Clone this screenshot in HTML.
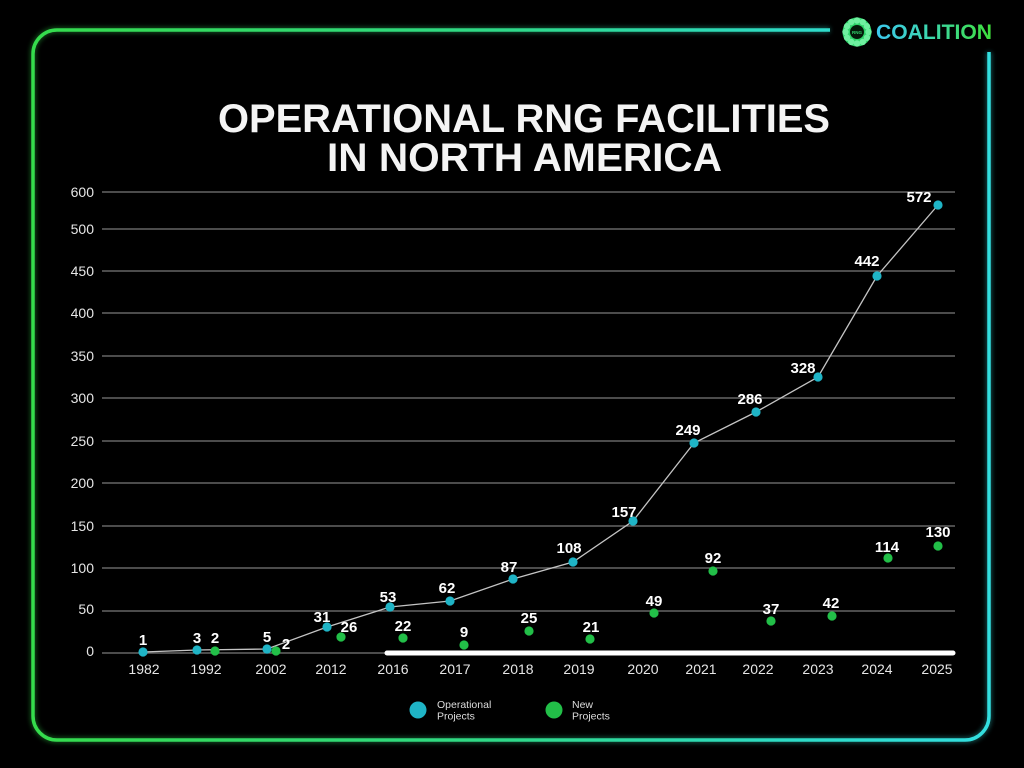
<!DOCTYPE html>
<html>
<head>
<meta charset="utf-8">
<style>
  html, body { margin: 0; padding: 0; background: #000; }
  body { width: 1024px; height: 768px; overflow: hidden; }
  svg { display: block; }
  text { font-family: "Liberation Sans", "DejaVu Sans", sans-serif; }
</style>
</head>
<body>
<svg width="1024" height="768" viewBox="0 0 1024 768" xmlns="http://www.w3.org/2000/svg">
  <defs>
    <linearGradient id="frameGrad" x1="0" y1="0" x2="1" y2="0" gradientUnits="objectBoundingBox">
      <stop offset="0" stop-color="#35dc4c"/>
      <stop offset="0.5" stop-color="#2fd98a"/>
      <stop offset="0.8" stop-color="#2edcc8"/>
      <stop offset="1" stop-color="#33dfe0"/>
    </linearGradient>
    <linearGradient id="logoText" x1="876" y1="0" x2="992" y2="0" gradientUnits="userSpaceOnUse">
      <stop offset="0" stop-color="#3cc8ee"/>
      <stop offset="0.45" stop-color="#3cd6b0"/>
      <stop offset="1" stop-color="#3ee03a"/>
    </linearGradient>
    <filter id="glow" x="-5%" y="-5%" width="110%" height="110%">
      <feGaussianBlur stdDeviation="2.5"/>
    </filter>
  </defs>

  <rect width="1024" height="768" fill="#000"/>

  <!-- Frame -->
  <path d="M 830 30 H 57 A 24 24 0 0 0 33 54 V 716 A 24 24 0 0 0 57 740 H 965 A 24 24 0 0 0 989 716 V 52"
        fill="none" stroke="url(#frameGrad)" stroke-width="6" opacity="0.35" filter="url(#glow)"/>
  <path d="M 830 30 H 57 A 24 24 0 0 0 33 54 V 716 A 24 24 0 0 0 57 740 H 965 A 24 24 0 0 0 989 716 V 52"
        fill="none" stroke="url(#frameGrad)" stroke-width="3.5"/>

  <!-- Logo -->
  <g>
    <circle cx="857" cy="32" r="14.5" fill="#2fd36a"/>
    <g fill="#6ff0a0">
      <circle cx="857" cy="20.5" r="3.2"/>
      <circle cx="862.75" cy="22.04" r="3.2"/>
      <circle cx="866.96" cy="26.25" r="3.2"/>
      <circle cx="868.5" cy="32" r="3.2"/>
      <circle cx="866.96" cy="37.75" r="3.2"/>
      <circle cx="862.75" cy="41.96" r="3.2"/>
      <circle cx="857" cy="43.5" r="3.2"/>
      <circle cx="851.25" cy="41.96" r="3.2"/>
      <circle cx="847.04" cy="37.75" r="3.2"/>
      <circle cx="845.5" cy="32" r="3.2"/>
      <circle cx="847.04" cy="26.25" r="3.2"/>
      <circle cx="851.25" cy="22.04" r="3.2"/>
    </g>
    <circle cx="857" cy="32" r="7" fill="#041a0a"/>
    <text x="857" y="34" font-size="4.5" font-weight="bold" fill="#2fd36a" text-anchor="middle">RNG</text>
    <text x="876" y="39" font-size="21" font-weight="bold" fill="url(#logoText)" textLength="116" lengthAdjust="spacingAndGlyphs">COALITION</text>
  </g>

  <!-- Title -->
  <text x="524" y="132" font-size="40" font-weight="bold" fill="#f4f4f4" text-anchor="middle" textLength="612" lengthAdjust="spacingAndGlyphs">OPERATIONAL RNG FACILITIES</text>
  <text x="524.5" y="171" font-size="40" font-weight="bold" fill="#f4f4f4" text-anchor="middle" textLength="395" lengthAdjust="spacingAndGlyphs">IN NORTH AMERICA</text>

  <!-- Gridlines -->
  <g stroke="#7a7a7a" stroke-width="1.3">
    <line x1="102" y1="192" x2="955" y2="192"/>
    <line x1="102" y1="229" x2="955" y2="229"/>
    <line x1="102" y1="271" x2="955" y2="271"/>
    <line x1="102" y1="313" x2="955" y2="313"/>
    <line x1="102" y1="356" x2="955" y2="356"/>
    <line x1="102" y1="398" x2="955" y2="398"/>
    <line x1="102" y1="441" x2="955" y2="441"/>
    <line x1="102" y1="483" x2="955" y2="483"/>
    <line x1="102" y1="526" x2="955" y2="526"/>
    <line x1="102" y1="568" x2="955" y2="568"/>
    <line x1="102" y1="611" x2="955" y2="611"/>
    <line x1="102" y1="653" x2="955" y2="653"/>
  </g>
  <line x1="387" y1="653" x2="953" y2="653" stroke="#ffffff" stroke-width="5" stroke-linecap="round"/>

  <!-- Y labels -->
  <g font-size="14" fill="#e6e6e6" text-anchor="end">
    <text x="94" y="197">600</text>
    <text x="94" y="234">500</text>
    <text x="94" y="276">450</text>
    <text x="94" y="318">400</text>
    <text x="94" y="361">350</text>
    <text x="94" y="403">300</text>
    <text x="94" y="446">250</text>
    <text x="94" y="488">200</text>
    <text x="94" y="531">150</text>
    <text x="94" y="573">100</text>
    <text x="94" y="614">50</text>
    <text x="94" y="656">0</text>
  </g>

  <!-- X labels -->
  <g font-size="14" fill="#e6e6e6" text-anchor="middle">
    <text x="144" y="674">1982</text>
    <text x="206" y="674">1992</text>
    <text x="271" y="674">2002</text>
    <text x="331" y="674">2012</text>
    <text x="393" y="674">2016</text>
    <text x="455" y="674">2017</text>
    <text x="518" y="674">2018</text>
    <text x="579" y="674">2019</text>
    <text x="643" y="674">2020</text>
    <text x="701" y="674">2021</text>
    <text x="758" y="674">2022</text>
    <text x="818" y="674">2023</text>
    <text x="877" y="674">2024</text>
    <text x="937" y="674">2025</text>
  </g>

  <!-- Operational line -->
  <polyline points="143,652 197,650 267,649 327,627 390,607 450,601 513,579 573,562 633,521 694,443 756,412 818,377 877,276 938,205"
            fill="none" stroke="#c4c4c4" stroke-width="1.3"/>

  <!-- Green (new) dots -->
  <g fill="#22bf48">
    <circle cx="215" cy="651" r="4.6"/>
    <circle cx="276" cy="651" r="4.6"/>
    <circle cx="341" cy="637" r="4.6"/>
    <circle cx="403" cy="638" r="4.6"/>
    <circle cx="464" cy="645" r="4.6"/>
    <circle cx="529" cy="631" r="4.6"/>
    <circle cx="590" cy="639" r="4.6"/>
    <circle cx="654" cy="613" r="4.6"/>
    <circle cx="713" cy="571" r="4.6"/>
    <circle cx="771" cy="621" r="4.6"/>
    <circle cx="832" cy="616" r="4.6"/>
    <circle cx="888" cy="558" r="4.6"/>
    <circle cx="938" cy="546" r="4.6"/>
  </g>

  <!-- Cyan (operational) dots -->
  <g fill="#1fb4c6">
    <circle cx="143" cy="652" r="4.6"/>
    <circle cx="197" cy="650" r="4.6"/>
    <circle cx="267" cy="649" r="4.6"/>
    <circle cx="327" cy="627" r="4.6"/>
    <circle cx="390" cy="607" r="4.6"/>
    <circle cx="450" cy="601" r="4.6"/>
    <circle cx="513" cy="579" r="4.6"/>
    <circle cx="573" cy="562" r="4.6"/>
    <circle cx="633" cy="521" r="4.6"/>
    <circle cx="694" cy="443" r="4.6"/>
    <circle cx="756" cy="412" r="4.6"/>
    <circle cx="818" cy="377" r="4.6"/>
    <circle cx="877" cy="276" r="4.6"/>
    <circle cx="938" cy="205" r="4.6"/>
  </g>

  <!-- Value labels -->
  <g font-size="15" font-weight="bold" fill="#ffffff" text-anchor="middle">
    <text x="143" y="645">1</text>
    <text x="197" y="643">3</text>
    <text x="267" y="642">5</text>
    <text x="322" y="622">31</text>
    <text x="388" y="602">53</text>
    <text x="447" y="593">62</text>
    <text x="509" y="572">87</text>
    <text x="569" y="553">108</text>
    <text x="624" y="517">157</text>
    <text x="688" y="435">249</text>
    <text x="750" y="404">286</text>
    <text x="803" y="373">328</text>
    <text x="867" y="266">442</text>
    <text x="919" y="202">572</text>

    <text x="215" y="643">2</text>
    <text x="286" y="649">2</text>
    <text x="349" y="632">26</text>
    <text x="403" y="631">22</text>
    <text x="464" y="637">9</text>
    <text x="529" y="623">25</text>
    <text x="591" y="632">21</text>
    <text x="654" y="606">49</text>
    <text x="713" y="563">92</text>
    <text x="771" y="614">37</text>
    <text x="831" y="608">42</text>
    <text x="887" y="552">114</text>
    <text x="938" y="537">130</text>
  </g>

  <!-- Legend -->
  <circle cx="418" cy="710" r="8.5" fill="#1fb4c6"/>
  <text x="437" y="708" font-size="10.5" fill="#dddddd">Operational</text>
  <text x="437" y="719.5" font-size="10.5" fill="#dddddd">Projects</text>
  <circle cx="554" cy="710" r="8.5" fill="#22bf48"/>
  <text x="572" y="708" font-size="10.5" fill="#dddddd">New</text>
  <text x="572" y="719.5" font-size="10.5" fill="#dddddd">Projects</text>
</svg>
</body>
</html>
